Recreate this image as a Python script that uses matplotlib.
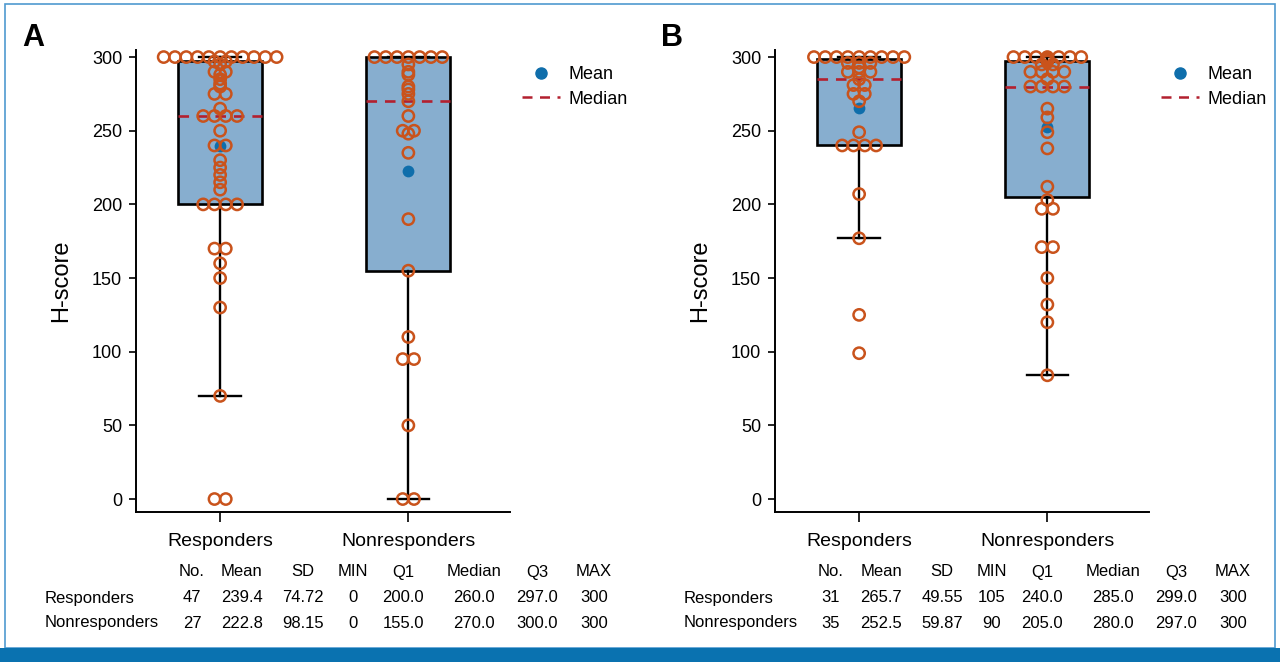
import matplotlib
matplotlib.use("Agg")
import matplotlib.pyplot as plt
from matplotlib.lines import Line2D
from matplotlib.patches import Rectangle
import numpy as np

plt.rcParams['font.family'] = ['Liberation Sans', 'DejaVu Sans']

# ---------------- data ----------------
groups = ['Responders', 'Nonresponders']

# panel A individual H-scores
resp_a = [300, 300, 300, 300, 300, 300, 300, 300, 300, 300, 300,
          297, 297, 295, 290, 290, 288, 285, 282, 280, 275, 275, 265,
          260, 260, 260, 260, 250, 240, 240, 230, 225, 220, 215, 210,
          200, 200, 200, 200, 170, 170, 160, 150, 130, 70, 0, 0]
non_a = [300, 300, 300, 300, 300, 300, 300,
         295, 290, 288, 280, 278, 275, 270, 260, 250, 250, 248, 235,
         190, 155, 110, 95, 95, 50, 0, 0]

# panel B individual H-scores
resp_b = [300, 300, 300, 300, 300, 300, 300, 300, 300,
          296, 296, 296, 293, 290, 290, 290, 285, 281, 281, 275, 275, 270,
          249, 240, 240, 240, 240, 207, 177, 125, 99]
non_b = [300, 300, 300, 300, 300, 300, 300, 299, 298, 297, 295, 295,
         290, 290, 290, 290, 285, 280, 280, 280, 280, 265, 259, 249, 238,
         212, 203, 197, 197, 171, 171, 150, 132, 120, 84]

# summary table (No., Mean, SD, MIN, Q1, Median, Q3, MAX)
table_cols = ['No.', 'Mean', 'SD', 'MIN', 'Q1', 'Median', 'Q3', 'MAX']
table_a = [['47', '239.4', '74.72', '0', '200.0', '260.0', '297.0', '300'],
           ['27', '222.8', '98.15', '0', '155.0', '270.0', '300.0', '300']]
table_b = [['31', '265.7', '49.55', '105', '240.0', '285.0', '299.0', '300'],
           ['35', '252.5', '59.87', '90', '205.0', '280.0', '297.0', '300']]

# box stats as drawn (whisker ends)
q1_a, med_a, q3_a = [200, 155], [260, 270], [297, 300]
wlo_a, whi_a = [70, 0], [300, 300]
mean_a = [239.4, 222.8]
q1_b, med_b, q3_b = [240, 205], [285, 280], [299, 297]
wlo_b, whi_b = [177, 84], [300, 300]
mean_b = [265.7, 252.5]

BOX_FILL = '#87aecf'
MED_COL = '#b3202f'
DOT_COL = '#c9531c'
MEAN_COL = '#0f6eab'
FRAME_BLUE = '#0a72b0'


def swarm_offsets(values, step=0.06):
    # equal values are spread side by side, centred on the group
    values = np.asarray(values, dtype=float)
    offs = np.zeros(len(values))
    for v in np.unique(values):
        idx = np.where(values == v)[0]
        n = len(idx)
        offs[idx] = (np.arange(n) - (n - 1) / 2) * step
    return offs


def draw_panel(ax, data, q1, med, q3, wlo, whi, means):
    stats = []
    for i in range(2):
        stats.append({'q1': q1[i], 'med': med[i], 'q3': q3[i],
                      'whislo': wlo[i], 'whishi': whi[i], 'fliers': []})
    ax.bxp(stats, positions=[1, 2], widths=0.447, capwidths=0.22,
           patch_artist=True, showfliers=False,
           boxprops=dict(facecolor=BOX_FILL, edgecolor='black', linewidth=1.9),
           medianprops=dict(color=MED_COL, linestyle=(0, (4, 3)), linewidth=1.9),
           whiskerprops=dict(color='black', linewidth=1.7),
           capprops=dict(color='black', linewidth=1.7))
    for i, vals in enumerate(data):
        ax.scatter(np.full(1, i + 1), [means[i]], s=72, color=MEAN_COL,
                   zorder=3, linewidths=0)
        x = i + 1 + swarm_offsets(vals)
        ax.scatter(x, vals, s=66, facecolors='none', edgecolors=DOT_COL,
                   linewidths=1.8, zorder=4, clip_on=False)

    ax.set_xlim(0.553, 2.54)
    ax.set_ylim(-8.8, 304.8)
    ax.set_yticks([0, 50, 100, 150, 200, 250, 300])
    ax.set_xticks([1, 2])
    ax.set_xticklabels(groups, fontsize=14)
    ax.tick_params(axis='y', labelsize=13, length=5, width=1.2, pad=5)
    ax.tick_params(axis='x', length=7, width=1.2, pad=8)
    ax.spines['top'].set_visible(False)
    ax.spines['right'].set_visible(False)
    ax.spines['left'].set_linewidth(1.4)
    ax.spines['bottom'].set_linewidth(1.4)
    ax.set_ylabel('H-score', fontsize=17, labelpad=14)

    handles = [Line2D([], [], marker='o', linestyle='none', color=MEAN_COL, markersize=8),
               Line2D([], [], color=MED_COL, linestyle=(0, (4, 3)), linewidth=1.8)]
    ax.legend(handles, ['Mean', 'Median'], loc='upper left',
              bbox_to_anchor=(1.032, 0.965), frameon=False, fontsize=13,
              handlelength=2.1, handletextpad=0.45, labelspacing=0.42,
              borderpad=0, borderaxespad=0)


def draw_table(fig, x0, rows):
    col_x = [192, 242, 303, 353, 403, 474, 537, 594]
    W, H = 1280.0, 662.0
    for c, name in enumerate(table_cols):
        fig.text((x0 + col_x[c]) / W, 1 - 572 / H, name, ha='center', va='center', fontsize=12)
    for r, row in enumerate(rows):
        y = 1 - (598 + 25 * r) / H
        fig.text((x0 + 45) / W, y, groups[r], ha='left', va='center', fontsize=12)
        for c, val in enumerate(row):
            fig.text((x0 + col_x[c]) / W, y, val, ha='center', va='center', fontsize=12)


fig = plt.figure(figsize=(12.8, 6.62), dpi=100)
ax_a = fig.add_axes([136 / 1280, 150 / 662, 374 / 1280, 462 / 662])
ax_b = fig.add_axes([775 / 1280, 150 / 662, 374 / 1280, 462 / 662])

draw_panel(ax_a, [resp_a, non_a], q1_a, med_a, q3_a, wlo_a, whi_a, mean_a)
draw_panel(ax_b, [resp_b, non_b], q1_b, med_b, q3_b, wlo_b, whi_b, mean_b)

fig.text(33 / 1280, 1 - 38 / 662, 'A', fontsize=22, fontweight='bold', ha='center', va='center')
fig.text(672 / 1280, 1 - 38 / 662, 'B', fontsize=22, fontweight='bold', ha='center', va='center')

draw_table(fig, 0, table_a)
draw_table(fig, 639, table_b)

# page frame and bottom band
fig.patches.append(Rectangle((5 / 1280, 14 / 662), 1270 / 1280, 644 / 662,
                             transform=fig.transFigure, fill=False,
                             edgecolor='#4f9ad0', linewidth=1.2))
fig.patches.append(Rectangle((0, 0), 1, 14 / 662, transform=fig.transFigure,
                             facecolor=FRAME_BLUE, edgecolor='none'))

fig.savefig('out.png', dpi=100)
